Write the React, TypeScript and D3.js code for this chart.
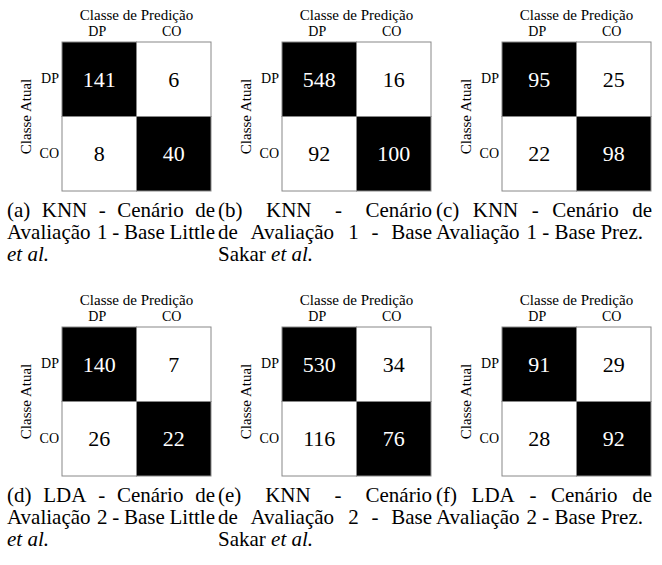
import React, { useMemo } from "react";
import * as d3 from "d3";

const predictedClasses = ["DP", "CO"];
const actualClasses = ["DP", "CO"];

const matrixA = [[141, 6], [8, 40]];
const matrixB = [[548, 16], [92, 100]];
const matrixC = [[95, 25], [22, 98]];
const matrixD = [[140, 7], [26, 22]];
const matrixE = [[530, 34], [116, 76]];
const matrixF = [[91, 29], [28, 92]];

const matrices = [matrixA, matrixB, matrixC, matrixD, matrixE, matrixF];

// "*...*" marks italic words
const captionA = ["(a) KNN - Cenário de", "Avaliação 1 - Base Little", "*et* *al.*"];
const captionB = ["(b) KNN - Cenário", "de Avaliação 1 - Base", "Sakar *et* *al.*"];
const captionC = ["(c) KNN - Cenário de", "Avaliação 1 - Base Prez."];
const captionD = ["(d) LDA - Cenário de", "Avaliação 2 - Base Little", "*et* *al.*"];
const captionE = ["(e) KNN - Cenário", "de Avaliação 2 - Base", "Sakar *et* *al.*"];
const captionF = ["(f) LDA - Cenário de", "Avaliação 2 - Base Prez."];

const captions = [captionA, captionB, captionC, captionD, captionE, captionF];

const titleText = "Classe de Predição";
const yAxisText = "Classe Atual";

const W = 662;
const H = 565;
const CAP_SIZE = 21;

const matrixLeft = [62, 282, 502];
const matrixTop = [42, 327];
const captionCols: [number, number][] = [
  [7, 215],
  [218, 432],
  [436, 652],
];
const captionBase = [217, 502];
const lineH = 22;
const matrixSize = 149;

// Times / Liberation Serif advance widths (per 1000 em)
const glyphW: Record<string, number> = {
  " ": 250, "(": 333, ")": 333, "-": 333, ".": 250, "1": 500, "2": 500,
  A: 722, B: 667, C: 667, D: 722, K: 722, L: 611, N: 722, P: 556, S: 556,
  a: 444, b: 500, c: 444, d: 500, e: 444, f: 333, i: 278, k: 500, l: 278,
  n: 500, o: 500, r: 333, s: 389, t: 278, v: 500, z: 444, "á": 444, "ã": 444, "ç": 444,
};
const glyphWItalic: Record<string, number> = { a: 500, e: 444, l: 278, t: 278, ".": 250 };

function measure(word: string, italic: boolean) {
  let s = 0;
  for (const ch of word) {
    const w = italic && glyphWItalic[ch] != null ? glyphWItalic[ch] : glyphW[ch] ?? 500;
    s += w;
  }
  return (s / 1000) * CAP_SIZE;
}

function CaptionBlock({ lines, x0, x1, y0 }: { lines: string[]; x0: number; x1: number; y0: number }) {
  const width = x1 - x0;
  const spaceW = measure(" ", false);
  return (
    <g>
      {lines.map((line, li) => {
        const words = line.split(" ").map((w) => {
          const it = w.startsWith("*") && w.endsWith("*");
          const t = it ? w.slice(1, -1) : w;
          return { t, it, w: measure(t, it) };
        });
        const last = li === lines.length - 1;
        const total = d3.sum(words, (d) => d.w);
        const gap = last || words.length < 2 ? spaceW : (width - total) / (words.length - 1);
        let x = x0;
        return words.map((wd, wi) => {
          const el = (
            <text
              key={`${li}-${wi}`}
              x={x}
              y={y0 + li * lineH}
              fontFamily="Liberation Serif"
              fontSize={CAP_SIZE}
              fontStyle={wd.it ? "italic" : undefined}
              fill="#000"
            >
              {wd.t}
            </text>
          );
          x += wd.w + gap;
          return el;
        });
      })}
    </g>
  );
}

function Matrix({ data, left, top }: { data: number[][]; left: number; top: number }) {
  const x = d3.scaleBand<string>().domain(predictedClasses).range([0, matrixSize]);
  const y = d3.scaleBand<string>().domain(actualClasses).range([0, matrixSize]);
  const bw = x.bandwidth();
  const bh = y.bandwidth();
  return (
    <g transform={`translate(${left},${top})`} fontFamily="Liberation Serif">
      <text x={matrixSize / 2} y={-22} textAnchor="middle" fontSize={15}>
        {titleText}
      </text>
      {predictedClasses.map((c) => (
        <text key={c} x={(x(c) ?? 0) + bw / 2 - 2} y={-6} textAnchor="middle" fontSize={14}>
          {c}
        </text>
      ))}
      {actualClasses.map((c) => (
        <text key={c} x={-3} y={(y(c) ?? 0) + bh / 2 + 4} textAnchor="end" fontSize={14}>
          {c}
        </text>
      ))}
      <text transform={`translate(${-31},${matrixSize / 2}) rotate(-90)`} textAnchor="middle" fontSize={15}>
        {yAxisText}
      </text>
      {actualClasses.map((ac, i) =>
        predictedClasses.map((pc, j) => {
          const dark = i === j;
          return (
            <g key={`${ac}-${pc}`}>
              <rect
                x={x(pc)}
                y={y(ac)}
                width={bw}
                height={bh}
                fill={dark ? "#000" : "#fff"}
                stroke="#888"
                strokeWidth={1}
              />
              <text
                x={(x(pc) ?? 0) + bw / 2}
                y={(y(ac) ?? 0) + bh / 2}
                dy="0.34em"
                textAnchor="middle"
                fontSize={22}
                fill={dark ? "#fff" : "#000"}
              >
                {data[i][j]}
              </text>
            </g>
          );
        })
      )}
    </g>
  );
}

export default function App() {
  const panels = useMemo(
    () =>
      matrices.map((m, k) => ({
        m,
        cap: captions[k],
        col: k % 3,
        row: Math.floor(k / 3),
      })),
    []
  );
  return (
    <svg width={W} height={H} style={{ position: "absolute", left: 0, top: 0 }}>
      <rect width={W} height={H} fill="#fff" />
      {panels.map((p, k) => (
        <g key={k}>
          <Matrix data={p.m} left={matrixLeft[p.col]} top={matrixTop[p.row]} />
          <CaptionBlock
            lines={p.cap}
            x0={captionCols[p.col][0]}
            x1={captionCols[p.col][1]}
            y0={captionBase[p.row]}
          />
        </g>
      ))}
    </svg>
  );
}
